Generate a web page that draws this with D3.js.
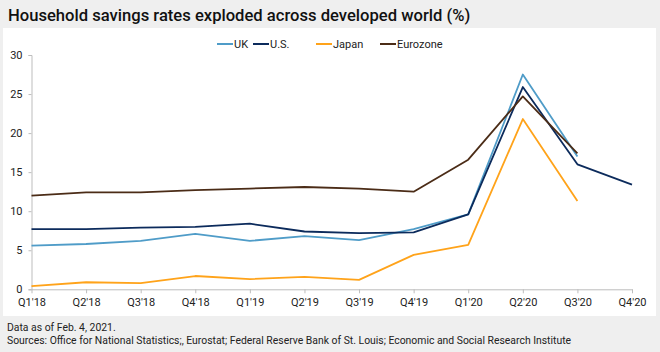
<!DOCTYPE html>
<html>
<head>
<meta charset="utf-8">
<script src="https://cdn.jsdelivr.net/npm/d3@7"></script>
<style>
  body { margin: 0; background: #efefef; font-family: Roboto, "Liberation Sans", sans-serif; }
  svg { display: block; }
</style>
</head>
<body>
<svg id="chart"></svg>
<script>
// chart data
const quarters = ["Q1'18", "Q2'18", "Q3'18", "Q4'18", "Q1'19", "Q2'19", "Q3'19", "Q4'19", "Q1'20", "Q2'20", "Q3'20", "Q4'20"];
const ukValues = [5.6, 5.8, 6.2, 7.1, 6.2, 6.8, 6.3, 7.7, 9.6, 27.5, 17.0];
const usValues = [7.7, 7.7, 7.9, 8.0, 8.4, 7.4, 7.2, 7.3, 9.6, 25.9, 16.0, 13.4];
const japanValues = [0.4, 0.9, 0.8, 1.7, 1.3, 1.6, 1.2, 4.4, 5.7, 21.8, 11.3];
const eurozoneValues = [12.0, 12.4, 12.4, 12.7, 12.9, 13.1, 12.9, 12.5, 16.6, 24.7, 17.4];
const yTicks = [0, 5, 10, 15, 20, 25, 30];

const seriesList = [
  { name: "UK", values: ukValues, color: "#4f9cc8" },
  { name: "U.S.", values: usValues, color: "#0c2b5c" },
  { name: "Japan", values: japanValues, color: "#ffa31a" },
  { name: "Eurozone", values: eurozoneValues, color: "#4b2c17" }
];

const size = { width: 660, height: 352 };
const svg = d3.select("#chart").attr("width", size.width).attr("height", size.height);

// title
svg.append("text")
  .attr("x", 8).attr("y", 21)
  .style("font-size", "16.6px")
  .style("font-weight", "500")
  .style("fill", "#111")
  .text("Household savings rates exploded across developed world (%)");

// white panel
svg.append("rect")
  .attr("x", 3).attr("y", 28)
  .attr("width", 653).attr("height", 288)
  .attr("fill", "#fff");

const x = d3.scalePoint().domain(quarters).range([31.5, 632]);
const y = d3.scaleLinear().domain([0, 30]).range([289.3, 55]);

// y axis
const yAxis = svg.append("g")
  .attr("transform", "translate(31.5,0)")
  .call(d3.axisLeft(y).tickValues(yTicks).tickSize(3).tickPadding(6));
yAxis.selectAll("text").style("font-size", "11px").style("fill", "#222").style("font-family", "Roboto, sans-serif");
yAxis.selectAll("line, path").attr("stroke", "#bdbdbd");

// x axis
const xAxis = svg.append("g")
  .attr("transform", "translate(0,289.3)")
  .call(d3.axisBottom(x).tickSize(4).tickPadding(5).tickSizeOuter(0));
xAxis.selectAll("text").style("font-size", "11px").style("fill", "#222").style("font-family", "Roboto, sans-serif");
xAxis.selectAll("line, path").attr("stroke", "#bdbdbd");

// lines
const line = d3.line()
  .x((d, i) => x(quarters[i]))
  .y(d => y(d));

svg.append("g")
  .selectAll("path")
  .data(seriesList)
  .join("path")
  .attr("d", d => line(d.values))
  .attr("fill", "none")
  .attr("stroke", d => d.color)
  .attr("stroke-width", 1.8)
  .attr("stroke-linejoin", "round");

// legend
const legendX = [217, 253, 316, 380];
const legend = svg.append("g")
  .selectAll("g")
  .data(seriesList)
  .join("g")
  .attr("transform", (d, i) => `translate(${legendX[i]},44)`);
legend.append("line")
  .attr("x1", 0).attr("x2", 16)
  .attr("stroke", d => d.color)
  .attr("stroke-width", 2);
legend.append("text")
  .attr("x", 17).attr("dy", "0.35em")
  .style("font-size", "11px")
  .style("fill", "#222")
  .text(d => d.name);

// footer
const notes = ["Data as of Feb. 4, 2021.", "Sources: Office for National Statistics;, Eurostat; Federal Reserve Bank of St. Louis; Economic and Social Research Institute"];
svg.append("g")
  .selectAll("text")
  .data(notes)
  .join("text")
  .attr("x", 7)
  .attr("y", (d, i) => 331 + i * 13)
  .style("font-size", "10.4px")
  .style("fill", "#222")
  .text(d => d);
</script>
</body>
</html>
